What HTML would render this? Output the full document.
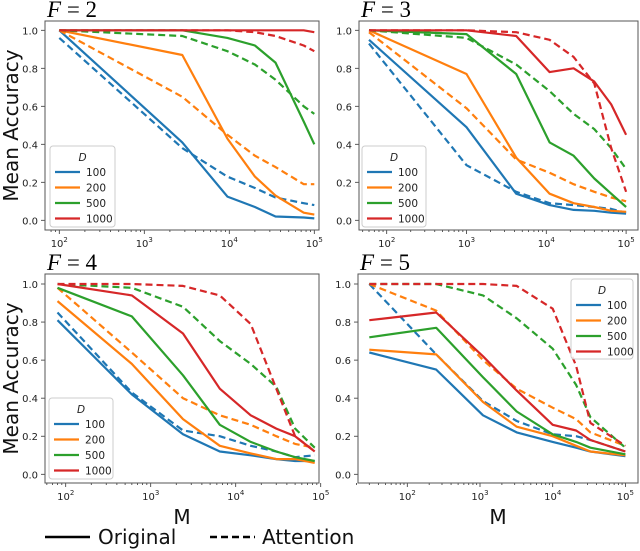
<!DOCTYPE html>
<html><head><meta charset="utf-8"><style>
html,body{margin:0;padding:0;background:#fff;}
svg{display:block;font-family:"DejaVu Sans","Liberation Sans",sans-serif;}
</style></head><body>
<svg id="c" width="640" height="551" viewBox="0 0 640 551" xmlns="http://www.w3.org/2000/svg"></svg>
<script>
// ---- data ----
const seriesD = ["100", "200", "500", "1000"];
const colors = ["#1f77b4", "#ff7f0e", "#2ca02c", "#d62728"];
const panelTitles = ["2", "3", "4", "5"];
const yTicks = [0, 0.2, 0.4, 0.6, 0.8, 1.0];
const yTickLabels = ["0.0", "0.2", "0.4", "0.6", "0.8", "1.0"];
const xTickExps = [2, 3, 4, 5];

const m1 = [100, 2800, 9500, 20000, 35000, 75000, 100000];
const orig1 = [
  [1.0, 0.41, 0.125, 0.07, 0.02, 0.015, 0.01],
  [1.0, 0.87, 0.43, 0.23, 0.13, 0.04, 0.03],
  [1.0, 1.0, 0.96, 0.92, 0.83, 0.52, 0.40],
  [1.0, 1.0, 1.0, 1.0, 1.0, 1.0, 0.99]];
const attn1 = [
  [0.96, 0.38, 0.23, 0.17, 0.12, 0.09, 0.08],
  [1.0, 0.65, 0.45, 0.34, 0.28, 0.19, 0.19],
  [1.0, 0.97, 0.89, 0.82, 0.74, 0.60, 0.56],
  [1.0, 1.0, 1.0, 0.99, 0.97, 0.92, 0.89]];

const m2 = [60, 1000, 4200, 11000, 22000, 40000, 65000, 100000];
const orig2 = [
  [0.95, 0.49, 0.14, 0.08, 0.055, 0.05, 0.04, 0.035],
  [1.0, 0.77, 0.33, 0.14, 0.09, 0.07, 0.05, 0.045],
  [1.0, 0.98, 0.77, 0.41, 0.34, 0.22, 0.14, 0.07],
  [1.0, 1.0, 0.97, 0.78, 0.80, 0.73, 0.61, 0.45]];
const attn2 = [
  [0.93, 0.29, 0.15, 0.09, 0.08, 0.07, 0.06, 0.04],
  [0.99, 0.59, 0.32, 0.25, 0.19, 0.15, 0.12, 0.10],
  [1.0, 0.96, 0.82, 0.68, 0.56, 0.48, 0.38, 0.27],
  [1.0, 1.0, 0.99, 0.95, 0.86, 0.72, 0.38, 0.15]];

const m3 = [80, 600, 2400, 6500, 15000, 30000, 50000, 85000];
const orig3 = [
  [0.81, 0.42, 0.21, 0.12, 0.10, 0.08, 0.07, 0.07],
  [0.91, 0.58, 0.29, 0.15, 0.11, 0.08, 0.08, 0.06],
  [0.98, 0.83, 0.52, 0.26, 0.17, 0.12, 0.09, 0.07],
  [1.0, 0.94, 0.74, 0.45, 0.31, 0.24, 0.20, 0.12]];
const attn3 = [
  [0.85, 0.43, 0.23, 0.20, 0.15, 0.12, 0.09, 0.10],
  [0.98, 0.64, 0.40, 0.31, 0.26, 0.20, 0.16, 0.14],
  [1.0, 0.98, 0.88, 0.70, 0.58, 0.46, 0.24, 0.14],
  [1.0, 1.0, 0.99, 0.94, 0.79, 0.45, 0.20, 0.12]];

const m4 = [30, 250, 1100, 3200, 10000, 21000, 33000, 100000];
const orig4 = [
  [0.64, 0.55, 0.31, 0.22, 0.17, 0.14, 0.12, 0.095],
  [0.655, 0.63, 0.38, 0.25, 0.20, 0.15, 0.12, 0.10],
  [0.72, 0.77, 0.51, 0.33, 0.21, 0.17, 0.14, 0.105],
  [0.81, 0.85, 0.62, 0.44, 0.26, 0.23, 0.18, 0.12]];
const attn4 = [
  [1.0, 0.63, 0.385, 0.28, 0.21, 0.20, 0.18, 0.12],
  [1.0, 0.86, 0.60, 0.45, 0.35, 0.29, 0.22, 0.15],
  [1.0, 1.0, 0.94, 0.82, 0.66, 0.47, 0.30, 0.14],
  [1.0, 1.0, 1.0, 0.99, 0.87, 0.57, 0.27, 0.15]];

// ---- layout (pixel geometry, not data) ----
const panels = [
  {box:[45,21,319,230], y1:30.3, y0:220.3, x2:59.3, dec:85, xmin:1.85, xmax:5.05, leg:[50,146,115,227], ylab:true, xlab:false, m:m1, o:orig1, a:attn1},
  {box:[359,21,638,230], y1:30.3, y0:220.3, x2:386.7, dec:79.8, xmin:1.65, xmax:5.15, leg:[362,146,426,227], ylab:false, xlab:false, m:m2, o:orig2, a:attn2},
  {box:[45,274,319,483], y1:284, y0:474.3, x2:65.7, dec:85, xmin:1.77, xmax:5.0, leg:[49,398,113,479], ylab:true, xlab:true, m:m3, o:orig3, a:attn3},
  {box:[358,274,638,483], y1:284, y0:474.3, x2:407.3, dec:72.7, xmin:1.3, xmax:5.16, leg:[571,279,633,359], ylab:false, xlab:true, m:m4, o:orig4, a:attn4}
];

const NS = "http://www.w3.org/2000/svg";
const svg = document.getElementById("c");
function el(tag, attrs, parent, text){
  const e = document.createElementNS(NS, tag);
  for (const k in attrs) e.setAttribute(k, attrs[k]);
  if (text !== undefined) e.textContent = text;
  (parent||svg).appendChild(e);
  return e;
}

panels.forEach((p, pi) => {
  const g = el("g", {});
  
  
  const xs = v => p.x2 + (Math.log10(v) - 2) * p.dec;
  const ys = v => p.y0 - v * (p.y0 - p.y1);
  const [bx0, by0, bx1, by1] = p.box;

  const t = el("text", {x: bx0 + 2, y: by0 - 4, "font-family": "'Liberation Serif',serif", "font-size": 23}, g);
  
  
  el("tspan", {"font-style": "italic"}, t, "F");
  el("tspan", {}, t, " = " + panelTitles[pi]);

  yTicks.forEach((v, i) => {
    const y = ys(v);
    el("line", {x1: bx0 - 4, x2: bx0, y1: y, y2: y, stroke: "#333", "stroke-width": 0.8}, g);
    const lb = el("text", {x: bx0 - 7, y: y + 4, "text-anchor": "end", "font-size": 10, fill: "#222"}, g, yTickLabels[i]);
    
    
  });
  for (let e = 1; e <= 5; e++) {
    for (let k = 1; k <= 9; k++) {
      const lv = e + Math.log10(k);
      if (lv < p.xmin || lv > p.xmax) continue;
      const x = p.x2 + (lv - 2) * p.dec;
      el("line", {x1: x, x2: x, y1: by1, y2: by1 + (k === 1 ? 4 : 2), stroke: "#333", "stroke-width": 0.8}, g);
    }
  }
  xTickExps.forEach(ex => {
    const x = p.x2 + (ex - 2) * p.dec;
    const lb = el("text", {x: x, y: by1 + 17, "text-anchor": "middle", "font-size": 10, fill: "#222"}, g);
    
    
    el("tspan", {}, lb, "10");
    el("tspan", {dy: -5, "font-size": 7}, lb, String(ex));
  });

  for (let s = 0; s < 4; s++) {
    [["o", null], ["a", "7,4"]].forEach(([key, dash]) => {
      const vals = p[key][s];
      const pts = vals.map((v, i) => xs(p.m[i]).toFixed(1) + "," + ys(v).toFixed(1)).join(" ");
      const attrs = {points: pts, fill: "none", stroke: colors[s], "stroke-width": 2.2, "stroke-linejoin": "round"};
      if (dash) attrs["stroke-dasharray"] = dash;
      const pl = el("polyline", attrs, g);
      
      
    });
  }

  el("rect", {x: bx0, y: by0, width: bx1 - bx0, height: by1 - by0, fill: "none", stroke: "#555", "stroke-width": 1}, g);

  const [lx0, ly0, lx1, ly1] = p.leg;
  const lg = el("g", {}, g);
  
  
  el("rect", {x: lx0, y: ly0, width: lx1 - lx0, height: ly1 - ly0, rx: 3, fill: "#fff", "fill-opacity": 0.85, stroke: "#ccc", "stroke-width": 1}, lg);
  el("text", {x: (lx0 + lx1) / 2, y: ly0 + 15, "text-anchor": "middle", "font-size": 10.5, "font-style": "italic", fill: "#222"}, lg, "D");
  seriesD.forEach((d, i) => {
    const y = ly0 + 23 + 15.5 * i;
    const ent = el("g", {}, lg);
    
    
    el("line", {x1: lx0 + 5, x2: lx0 + 30, y1: y + 3, y2: y + 3, stroke: colors[i], "stroke-width": 2.2}, ent);
    el("text", {x: lx0 + 36, y: y + 7, "font-size": 10.5, fill: "#222"}, ent, d);
  });

  if (p.ylab) {
    const yl = el("text", {x: 0, y: 0, transform: `translate(18,${(by0 + by1) / 2}) rotate(-90)`, "text-anchor": "middle", "font-size": 20, fill: "#111"}, g, "Mean Accuracy");
    
    
  }
  if (p.xlab) {
    const xl = el("text", {x: (bx0 + bx1) / 2, y: by1 + 41, "text-anchor": "middle", "font-size": 20, fill: "#111"}, g, "M");
    
    
  }
});

const bl = el("g", {});


el("line", {x1: 45, x2: 90, y1: 537, y2: 537, stroke: "#000", "stroke-width": 2.5}, bl);
el("text", {x: 98, y: 544, "font-size": 20, fill: "#111"}, bl, "Original");
el("line", {x1: 210, x2: 255, y1: 537, y2: 537, stroke: "#000", "stroke-width": 2.5, "stroke-dasharray": "7,4"}, bl);
el("text", {x: 262, y: 544, "font-size": 20, fill: "#111"}, bl, "Attention");
</script>
</body></html>
